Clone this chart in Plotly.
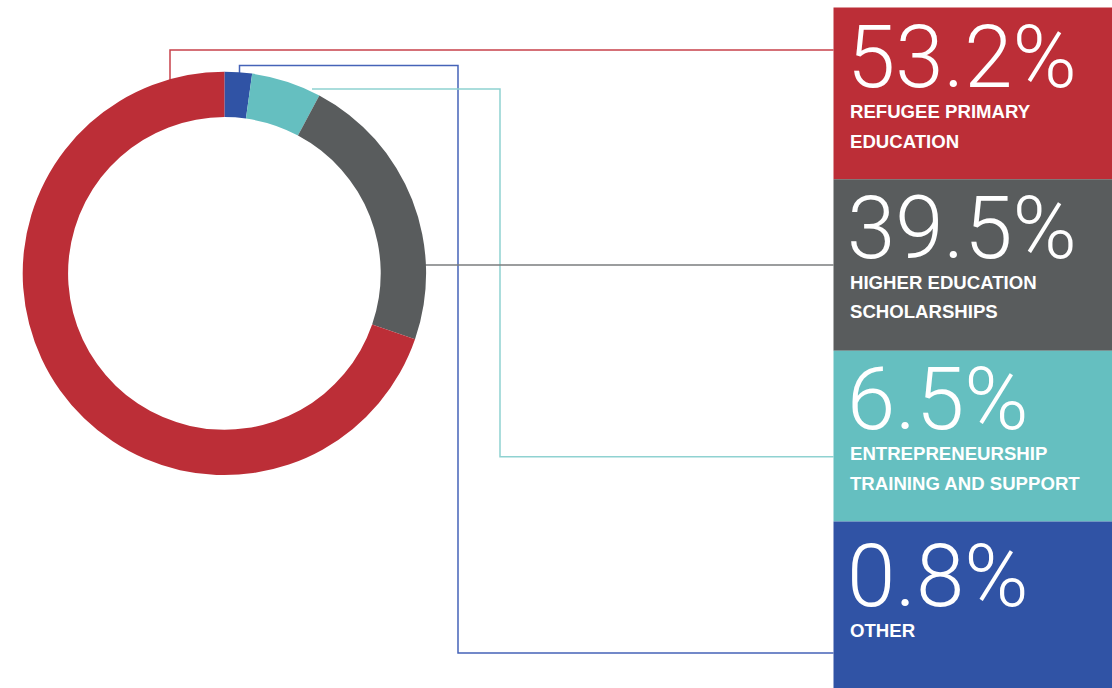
import plotly.graph_objects as go

# ---- data ----
categories = ["Other", "Entrepreneurship training and support",
              "Higher education scholarships", "Refugee primary education"]
# arc shares as drawn in the reference donut (clockwise from 12 o'clock)
slice_values = [2.2, 5.6, 22.5, 69.7]
slice_colors = ["#3053A5", "#65BFC0", "#595C5D", "#BC2E37"]

# stated figures in the side panels (top to bottom)
panel_values = ["53.2%", "39.5%", "6.5%", "0.8%"]
panel_lines = [["REFUGEE PRIMARY", "EDUCATION"],
               ["HIGHER EDUCATION", "SCHOLARSHIPS"],
               ["ENTREPRENEURSHIP", "TRAINING AND SUPPORT"],
               ["OTHER"]]
panel_colors = ["#BC2E37", "#595C5D", "#65BFC0", "#3053A5"]

W, H = 1112, 688

def px(x):
    return x / W

def py(y):
    return 1 - y / H

# donut geometry (pixels)
cx, cy, R = 224.4, 273.4, 201.7
hole = 0.775

fig = go.Figure(go.Pie(
    labels=categories,
    values=slice_values,
    sort=False,
    direction="clockwise",
    rotation=0,
    hole=hole,
    marker=dict(colors=slice_colors, line=dict(width=0)),
    textinfo="none",
    hoverinfo="label+percent",
    showlegend=False,
    domain=dict(x=[px(cx - R), px(cx + R)], y=[py(cy + R), py(cy - R)]),
))

shapes = []
# panels
box_tops = [7.5, 179.3, 350.7, 521.5]
box_bottoms = [179.3, 350.7, 521.5, 700]
for top, bot, col in zip(box_tops, box_bottoms, panel_colors):
    shapes.append(dict(type="rect", xref="paper", yref="paper",
                       x0=px(833.5), x1=px(1115), y0=py(bot), y1=py(top),
                       fillcolor=col, line=dict(width=0), layer="above"))

# connector routes (pixels)
routes = [
    ([(170, 88), (170, 50), (833.5, 50)], "#C8424B"),
    ([(239.5, 80), (239.5, 65.5), (458, 65.5), (458, 653), (833.5, 653)], "#4563B8"),
    ([(312, 89), (500, 89), (500, 456.7), (833.5, 456.7)], "#8FD2D1"),
    ([(420, 265), (833.5, 265)], "#7A7D7E"),
]
for pts, col in routes:
    path = "M " + " L ".join(f"{px(x):.5f},{py(y):.5f}" for x, y in pts)
    shapes.append(dict(type="path", xref="paper", yref="paper", path=path,
                       line=dict(color=col, width=1.5), layer="below"))

annotations = []
big_centers = [58, 228.3, 399, 576.7]
line_centers = [[111.7, 141.7], [282, 311.4], [453.9, 483], [630]]
for val, yc in zip(panel_values, big_centers):
    annotations.append(dict(
        text=val, xref="paper", yref="paper", x=px(845.5), y=py(yc - 0.5),
        xanchor="left", yanchor="middle", showarrow=False, borderpad=0,
        font=dict(family="Roboto", size=87, color="white", weight=300)))
for lines, ycs in zip(panel_lines, line_centers):
    for txt, yc in zip(lines, ycs):
        annotations.append(dict(
            text=txt, xref="paper", yref="paper", x=px(848.5), y=py(yc),
            xanchor="left", yanchor="middle", showarrow=False, borderpad=0,
            font=dict(family="Liberation Sans", size=18.6, color="white",
                      weight="bold")))

fig.update_layout(
    width=W, height=H,
    margin=dict(l=0, r=0, t=0, b=0),
    paper_bgcolor="white", plot_bgcolor="white",
    shapes=shapes, annotations=annotations,
)

fig.write_html(
    "out.html",
    config={"displayModeBar": False},
    post_script="document.body.style.margin='0';"
                "document.documentElement.style.overflow='hidden';",
)
